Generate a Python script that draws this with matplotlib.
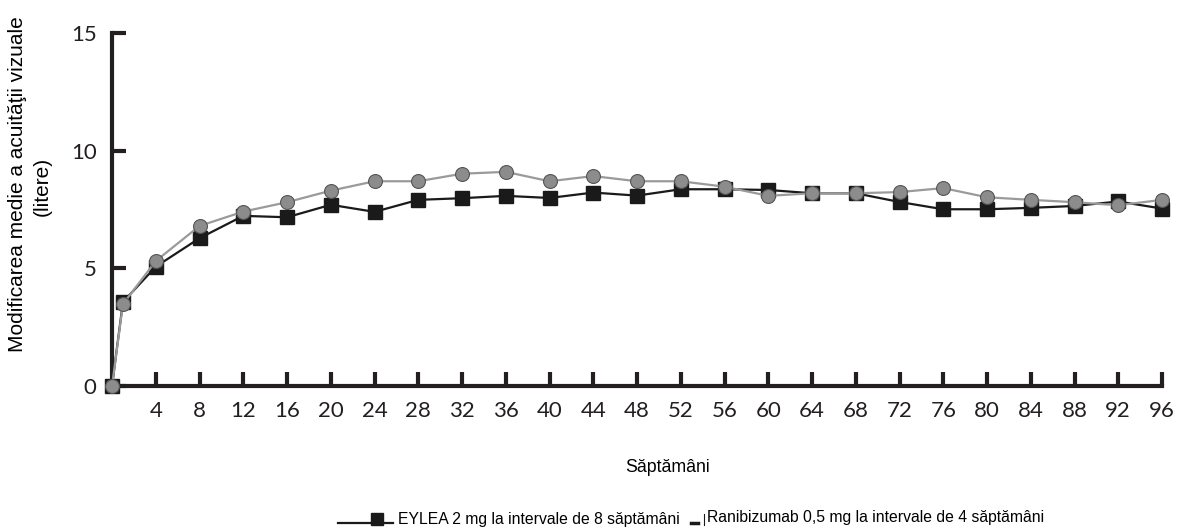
import matplotlib
matplotlib.use("Agg")
import matplotlib.pyplot as plt
from matplotlib.lines import Line2D

# Data
weeks = [0, 1, 4, 8, 12, 16, 20, 24, 28, 32, 36, 40, 44, 48,
         52, 56, 60, 64, 68, 72, 76, 80, 84, 88, 92, 96]

eylea = [0.0, 3.57, 5.07, 6.28, 7.23, 7.17, 7.70, 7.40, 7.91, 7.98, 8.08, 7.99, 8.22, 8.09,
         8.36, 8.36, 8.33, 8.19, 8.19, 7.82, 7.51, 7.51, 7.57, 7.65, 7.84, 7.54]

ranibizumab = [0.0, 3.48, 5.31, 6.80, 7.41, 7.81, 8.30, 8.70, 8.70, 9.02, 9.10, 8.70, 8.92, 8.70,
               8.70, 8.47, 8.08, 8.19, 8.19, 8.24, 8.41, 8.02, 7.91, 7.81, 7.68, 7.91]

x_ticks = list(range(4, 97, 4))
y_ticks = [0, 5, 10, 15]

labels = [
    "EYLEA 2 mg la intervale de 8 săptămâni",
    "Ranibizumab 0,5 mg la intervale de 4 săptămâni",
]

axis_color = "#231f20"
grey = "#8c8c8c"
grey_line = "#9a9a9a"

fig = plt.figure(figsize=(11.8, 5.27), dpi=100)
ax = fig.add_axes([112 / 1180, 141 / 527, (1162 - 112) / 1180, (386 - 33) / 527])

ax.plot(
    weeks, eylea,
    color="#1a1a1a", linewidth=1.6,
    marker="s", markersize=10, markerfacecolor="#1a1a1a",
    markeredgecolor="#1a1a1a", clip_on=False, zorder=3
)
ax.plot(
    weeks, ranibizumab,
    color=grey_line, linewidth=1.6,
    marker="o", markersize=10, markerfacecolor=grey,
    markeredgecolor="#555555", markeredgewidth=0.8,
    clip_on=False, zorder=4
)

ax.set_xlim(0, 96)
ax.set_ylim(0, 15)

for side in ["top", "right"]:
    ax.spines[side].set_visible(False)
for side in ["left", "bottom"]:
    ax.spines[side].set_linewidth(3)
    ax.spines[side].set_color(axis_color)

ax.set_xticks(x_ticks)
ax.set_yticks(y_ticks)
ax.tick_params(
    axis="both", direction="in", length=10, width=3,
    color=axis_color, labelcolor=axis_color, labelsize=16
)
ax.tick_params(axis="x", pad=11)
ax.tick_params(axis="y", pad=11)
for lab in ax.get_xticklabels() + ax.get_yticklabels():
    lab.set_fontfamily("Lato")
    lab.set_fontweight("normal")

fig.text(
    668 / 1180, 1 - 467 / 527, "Săptămâni",
    ha="center", va="center", fontsize=12.8, family="Liberation Sans"
)
fig.text(
    18 / 1180, 1 - 184 / 527, "Modificarea medie a acuităţii vizuale",
    ha="center", va="center", rotation=90, fontsize=15, family="Liberation Sans"
)
fig.text(
    42 / 1180, 1 - 186 / 527, "(litere)",
    ha="center", va="center", rotation=90, fontsize=15, family="Liberation Sans"
)

# Legend drawn by hand, as in the reference
fig.add_artist(Line2D(
    [338 / 1180, 393 / 1180], [1 - 523 / 527, 1 - 523 / 527],
    color="#1a1a1a", linewidth=1.6, transform=fig.transFigure
))
fig.add_artist(Line2D(
    [377 / 1180], [1 - 519 / 527],
    marker="s", markersize=9, color="#1a1a1a", linestyle="none",
    transform=fig.transFigure
))
fig.text(
    398 / 1180, 1 - 524 / 527, labels[0],
    ha="left", va="baseline", fontsize=11.3, family="Liberation Sans"
)
fig.add_artist(Line2D(
    [691 / 1180, 698 / 1180], [1 - 523 / 527, 1 - 523 / 527],
    color="#1a1a1a", linewidth=2.5, transform=fig.transFigure
))
fig.add_artist(Line2D(
    [704 / 1180, 704 / 1180], [1 - 514 / 527, 1 - 525 / 527],
    color="#1a1a1a", linewidth=0.8, transform=fig.transFigure
))
fig.text(
    707 / 1180, 1 - 522 / 527, labels[1],
    ha="left", va="baseline", fontsize=11.3, family="Liberation Sans"
)

plt.savefig("out.png", dpi=100)
plt.close()
